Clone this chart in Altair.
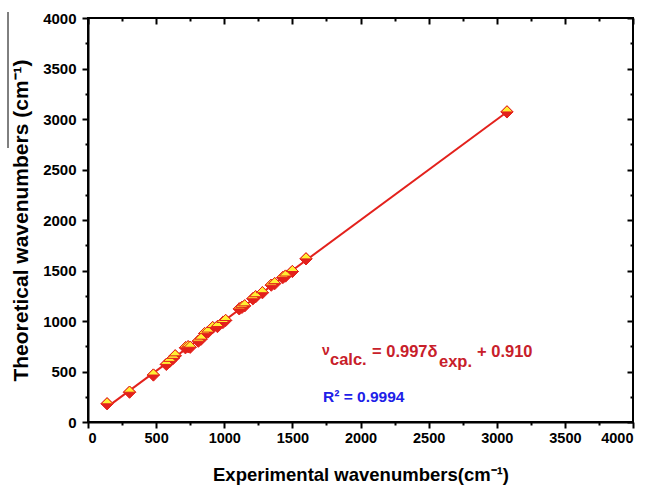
import altair as alt
import pandas as pd

exp_vals = [140, 305, 480, 575, 600, 625, 640, 715, 735, 750, 810, 830, 855, 880, 915,
            950, 990, 1010, 1110, 1130, 1150, 1210, 1230, 1280, 1345, 1370, 1430, 1450,
            1500, 1600, 3075]
theo_vals = [180, 295, 465, 570, 600, 630, 655, 735, 745, 740, 800, 820, 875, 890, 935,
             945, 985, 1005, 1120, 1135, 1150, 1220, 1240, 1280, 1355, 1370, 1430, 1445,
             1490, 1615, 3070]
major_ticks = [0, 500, 1000, 1500, 2000, 2500, 3000, 3500, 4000]
minor_ticks = [250, 750, 1250, 1750, 2250, 2750, 3250, 3750]

df = pd.DataFrame({"exp": exp_vals, "theo": theo_vals})

W, H = 545, 404
FONT = "Liberation Sans"
RED = "#e3211c"
YELLOW = "#fff033"

xs = alt.Scale(domain=[0, 4000], nice=False, zero=False)
ys = alt.Scale(domain=[0, 4000], nice=False, zero=False)

base = alt.Chart(df)

main_x = alt.Axis(values=major_ticks, title="Experimental wavenumbers(cm⁻¹)",
                  labelFont=FONT, labelFontSize=14.5, labelFontWeight="bold", labelColor="black",
                  titleFont=FONT, titleFontSize=18.5, titleFontWeight="bold", titleColor="black",
                  tickSize=6, tickWidth=2, tickColor="black", domainWidth=2, domainColor="black",
                  grid=False, labelPadding=3, titlePadding=21, format="d")
main_y = alt.Axis(values=major_ticks, title="Theoretical wavenumbers (cm⁻¹)",
                  labelFont=FONT, labelFontSize=15, labelFontWeight="bold", labelColor="black",
                  titleFont=FONT, titleFontSize=21, titleFontWeight="bold", titleColor="black",
                  tickSize=6, tickWidth=2, tickColor="black", domainWidth=2, domainColor="black",
                  grid=False, labelPadding=6, titlePadding=11, format="d")

fit = base.mark_line(color=RED, strokeWidth=2).transform_regression(
    "exp", "theo").encode(
    x=alt.X("exp:Q", scale=xs, axis=main_x),
    y=alt.Y("theo:Q", scale=ys, axis=main_y),
)

red_pts = base.mark_point(shape="diamond", filled=True, fill=RED, stroke=RED,
                          strokeWidth=1, size=150, opacity=1).encode(
    x=alt.X("exp:Q", scale=xs, axis=None),
    y=alt.Y("theo:Q", scale=ys, axis=None),
)
yel_pts = base.mark_point(shape="M -1 0 L 0 -1 L 1 0 Z", filled=True, fill=YELLOW,
                          stroke=RED, strokeWidth=1, size=150, opacity=1).encode(
    x=alt.X("exp:Q", scale=xs, axis=None),
    y=alt.Y("theo:Q", scale=ys, axis=None),
)


def tick_layer(orient_x, orient_y, vals, size, offset):
    ax = alt.Axis(values=vals, orient=orient_x, labels=False, title="", tickSize=size,
                  tickWidth=2, tickColor="black", domain=False, grid=False, offset=offset)
    ay = alt.Axis(values=vals, orient=orient_y, labels=False, title="", tickSize=size,
                  tickWidth=2, tickColor="black", domain=False, grid=False, offset=offset)
    return base.mark_point(opacity=0).encode(
        x=alt.X("exp:Q", scale=xs, axis=ax),
        y=alt.Y("theo:Q", scale=ys, axis=ay),
    )


minor_bl = tick_layer("bottom", "left", minor_ticks, 3, 0)
major_tr = tick_layer("top", "right", major_ticks, 6, -6)
minor_tr = tick_layer("top", "right", minor_ticks, 3, -3)

ann = pd.DataFrame({"a": [0]})


def txt(s, x, y, size, color):
    return alt.Chart(ann).mark_text(text=s, align="left", baseline="alphabetic", font=FONT,
                                    fontSize=size, fontWeight="bold", color=color).encode(
        x=alt.value(x), y=alt.value(y))


EQ = "#c8202a"
labels = [
    txt("ν", 234, 337, 14, EQ),
    txt("calc.", 242, 347, 16.5, EQ),
    txt("= 0.997δ", 284, 339, 16.5, EQ),
    txt("exp.", 351, 349, 16.5, EQ),
    txt("+ 0.910", 389, 339, 16.5, EQ),
    txt("R² = 0.9994", 235, 384, 15.5, "#2020e8"),
]

stray = alt.Chart(ann).mark_rule(color="black", strokeWidth=1).encode(
    x=alt.value(-80), y=alt.value(-6), y2=alt.value(130))

chart = alt.layer(fit, minor_bl, major_tr, minor_tr, red_pts, yel_pts, stray, *labels).resolve_axis(
    x="independent", y="independent"
).properties(
    width=W, height=H,
    autosize=alt.AutoSizeParams(type="none"),
    padding={"left": 88, "top": 18, "right": 20, "bottom": 63},
    background="white",
).configure_view(stroke="black", strokeWidth=2)

chart.save("out.html", embed_options={"renderer": "svg", "actions": False})
